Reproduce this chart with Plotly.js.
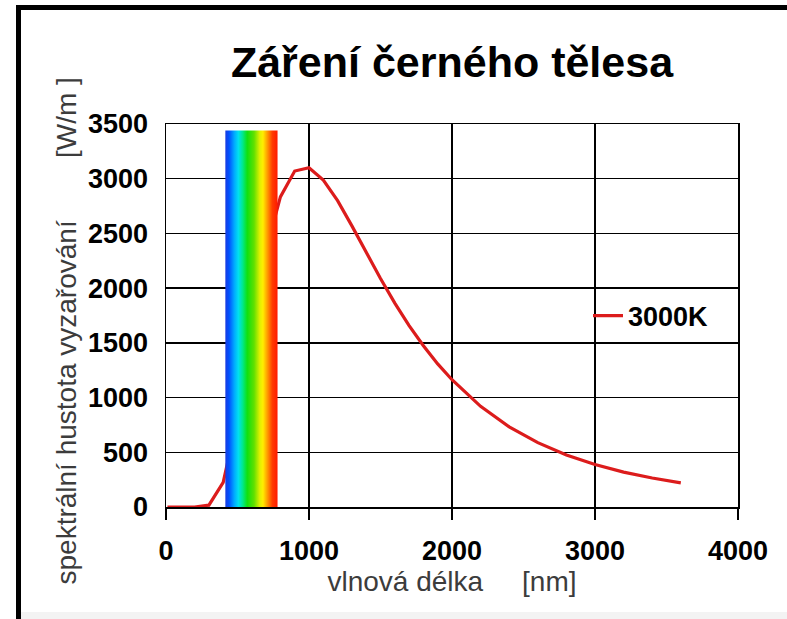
<!DOCTYPE html>
<html>
<head>
<meta charset="utf-8">
<script src="https://cdn.plot.ly/plotly-3.0.1.min.js"></script>
<style>
html,body{margin:0;padding:0;background:#fff;overflow:hidden;}
#wrap{position:relative;width:787px;height:619px;}
#chart{width:787px;height:619px;}
#strip{position:absolute;left:21px;top:612px;width:766px;height:7px;background:#f3f3f3;pointer-events:none;}
#frame{position:absolute;left:16px;top:5px;width:771px;height:614px;border-top:5px solid #000;border-left:5px solid #000;box-sizing:border-box;pointer-events:none;}
</style>
</head>
<body>
<div id="wrap">
<div id="chart"></div>
<div id="strip"></div>
<div id="frame"></div>
</div>
<script>
// Data
const wavelengthNm = [10, 100, 200, 300, 400, 500, 600, 700, 800, 900, 1000, 1100, 1200, 1300, 1400, 1500, 1600, 1700, 1800, 1900, 2000, 2200, 2400, 2600, 2800, 3000, 3200, 3400, 3600];
const radiance3000K = [0, 0, 0, 17, 226, 812, 1615, 2345, 2834, 3070, 3100, 2988, 2800, 2569, 2325, 2088, 1863, 1658, 1474, 1308, 1163, 920, 733, 588, 476, 388, 319, 265, 221];
const seriesName = '3000K';
const visibleBandNm = [415, 780];   // visible light band (left, right)
const visibleBandTop = 3440;        // band height on the y axis
const xTicks = [0, 1000, 2000, 3000, 4000];
const yTicks = [0, 500, 1000, 1500, 2000, 2500, 3000, 3500];

const chartTitle = 'Záření černého tělesa';
const xTitle = 'vlnová délka' + '\u00A0'.repeat(5) + '[nm]';
const yTitle = 'spektrální hustota vyzařování' + '\u00A0'.repeat(8) + '[W/m ]';

const spectrumScale = [[0,'#1a3ce0'],[0.07,'#0050ff'],[0.17,'#00a8ff'],[0.25,'#00e0f0'],[0.33,'#00e890'],[0.42,'#10e010'],[0.55,'#60e000'],[0.66,'#e0f000'],[0.72,'#ffee00'],[0.8,'#ffa000'],[0.9,'#ff3c00'],[1,'#ff1a00']];

const FONT = 'Arial, "Liberation Sans", sans-serif';

const curve = {
  type: 'scatter', mode: 'lines', name: seriesName,
  x: wavelengthNm, y: radiance3000K,
  line: {color: '#dc1c1c', width: 3.2},
  hoverinfo: 'x+y'
};
const band = {
  type: 'scatter', mode: 'lines', showlegend: false, hoverinfo: 'skip',
  x: [visibleBandNm[0], visibleBandNm[1], visibleBandNm[1], visibleBandNm[0], visibleBandNm[0]],
  y: [0, 0, visibleBandTop, visibleBandTop, 0],
  fill: 'toself', line: {width: 0},
  fillgradient: {type: 'horizontal', colorscale: spectrumScale}
};

const pxX = px => (px - 166) / 572;
const pxY = py => (507 - py) / 383;

const layout = {
  width: 787, height: 619,
  margin: {l: 166, r: 49, t: 124, b: 112},
  paper_bgcolor: '#ffffff', plot_bgcolor: '#ffffff',
  font: {family: FONT, color: '#000'},
  title: {text: chartTitle, font: {family: FONT, size: 43, weight: 'bold', color: '#000'},
          x: 452/787, xanchor: 'center', xref: 'container', y: 1 - 62/619, yanchor: 'middle', yref: 'container'},
  xaxis: {
    range: [0, 4000], tickvals: xTicks, ticktext: xTicks.map(String),
    showgrid: true, gridcolor: '#000', gridwidth: 1.3,
    showline: true, linecolor: '#000', linewidth: 1.5, mirror: true,
    ticks: 'outside', ticklen: 11, tickwidth: 1.3, tickcolor: '#000',
    ticklabelstandoff: 8,
    tickfont: {family: FONT, size: 27, weight: 'bold', color: '#000'},
    zeroline: false,
    title: {text: xTitle, font: {family: FONT, size: 28, color: '#3c3c3c'}, standoff: 6}
  },
  yaxis: {
    range: [0, 3500], tickvals: yTicks, ticktext: yTicks.map(String),
    showgrid: true, gridcolor: '#000', gridwidth: 1.3,
    showline: true, linecolor: '#000', linewidth: 1.5, mirror: true,
    ticks: '', ticklabelstandoff: 11,
    tickfont: {family: FONT, size: 27, weight: 'bold', color: '#000'},
    zeroline: false
  },
  annotations: [
    {text: yTitle, textangle: -90, xref: 'paper', yref: 'paper', x: pxX(66), y: pxY(331.5),
     xanchor: 'center', yanchor: 'middle', showarrow: false,
     font: {family: FONT, size: 28, color: '#3c3c3c'}}
  ],
  showlegend: true,
  legend: {x: pxX(588), xanchor: 'left', y: pxY(316), yanchor: 'middle', bgcolor: 'rgba(0,0,0,0)',
           font: {family: FONT, size: 27, weight: 'bold', color: '#000'}}
};

Plotly.newPlot('chart', [curve, band], layout, {displayModeBar: false, staticPlot: true});
</script>
</body>
</html>
